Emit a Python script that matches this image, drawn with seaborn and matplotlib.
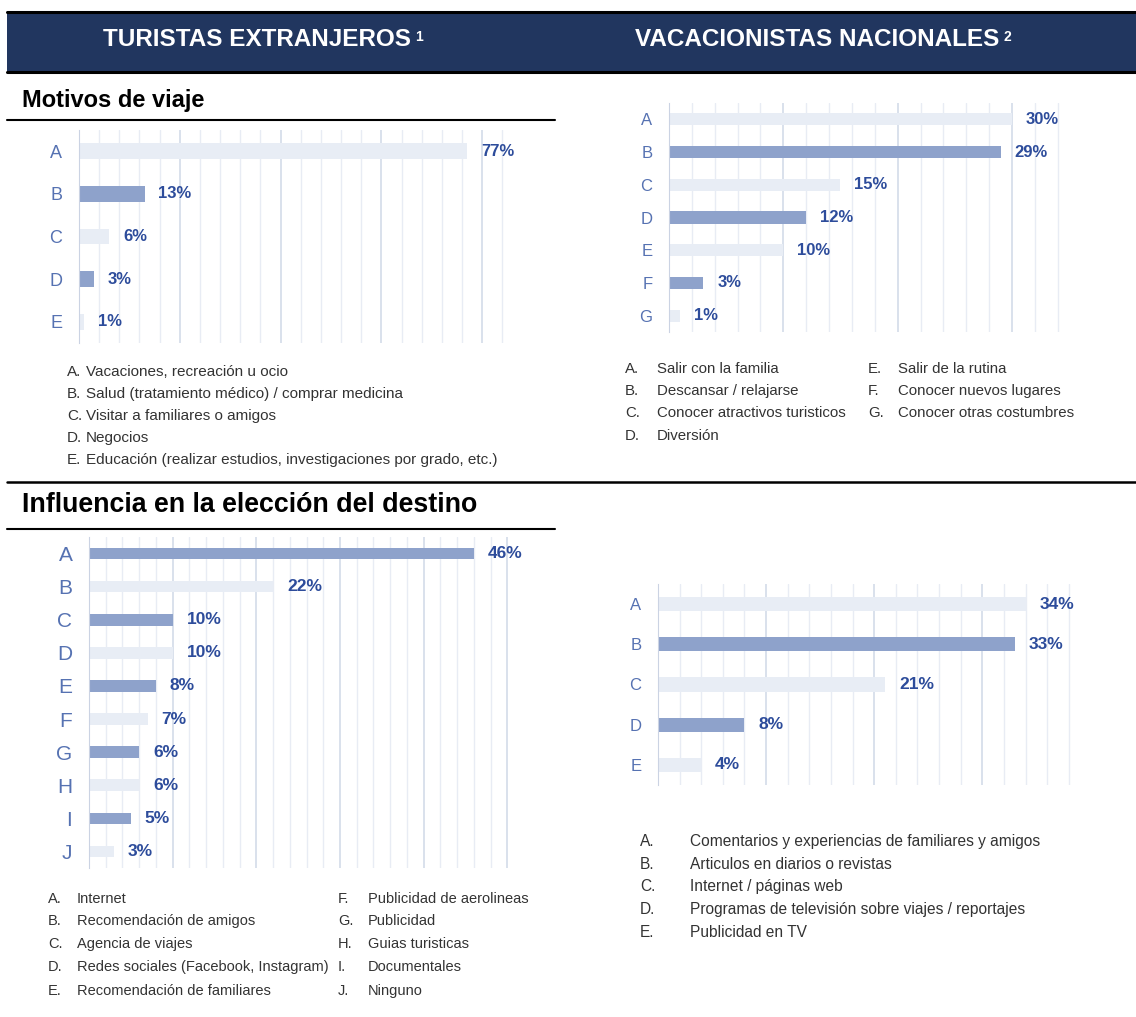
import matplotlib
matplotlib.use('Agg')
import matplotlib.pyplot as plt
from matplotlib.lines import Line2D
from matplotlib.patches import Rectangle
from matplotlib.ticker import MultipleLocator, FixedLocator
import numpy as np
import pandas as pd
import seaborn as sns

sns.set_style('white')
plt.rcParams['font.family'] = ['Liberation Sans', 'DejaVu Sans']

W, H = 1136, 1017
navy = '#21365f'
bar_light = '#e8edf5'
bar_dark = '#8ea2cb'
val_color = '#2d4c9b'
tick_color = '#5672b2'
grid_major = '#d7deeb'
grid_minor = '#e8ecf4'
legend_color = '#333333'

# data
ext_motivos_cat = ['A', 'B', 'C', 'D', 'E']
ext_motivos_val = [77, 13, 6, 3, 1]
ext_motivos_txt = ['Vacaciones, recreación u ocio',
                   'Salud (tratamiento médico) / comprar medicina',
                   'Visitar a familiares o amigos',
                   'Negocios',
                   'Educación (realizar estudios, investigaciones por grado, etc.)']

nac_motivos_cat = ['A', 'B', 'C', 'D', 'E', 'F', 'G']
nac_motivos_val = [30, 29, 15, 12, 10, 3, 1]
nac_motivos_txt = ['Salir con la familia', 'Descansar / relajarse',
                   'Conocer atractivos turisticos', 'Diversión',
                   'Salir de la rutina', 'Conocer nuevos lugares',
                   'Conocer otras costumbres']

ext_infl_cat = ['A', 'B', 'C', 'D', 'E', 'F', 'G', 'H', 'I', 'J']
ext_infl_val = [46, 22, 10, 10, 8, 7, 6, 6, 5, 3]
ext_infl_txt = ['Internet', 'Recomendación de amigos', 'Agencia de viajes',
                'Redes sociales (Facebook, Instagram)', 'Recomendación de familiares',
                'Publicidad de aerolineas', 'Publicidad', 'Guias turisticas',
                'Documentales', 'Ninguno']

nac_infl_cat = ['A', 'B', 'C', 'D', 'E']
nac_infl_val = [34, 33, 21, 8, 4]
nac_infl_txt = ['Comentarios y experiencias de familiares y amigos',
                'Articulos en diarios o revistas',
                'Internet / páginas web',
                'Programas de televisión sobre viajes / reportajes',
                'Publicidad en TV']


def fx(x):
    return x / W


def fy(y):
    return 1 - y / H


def add_ax(x0, y0, x1, y1):
    return fig.add_axes([fx(x0), fy(y1), (x1 - x0) / W, (y1 - y0) / H])


def hline(x0, x1, y, lw=1.5):
    fig.add_artist(Line2D([fx(x0), fx(x1)], [fy(y), fy(y)], transform=fig.transFigure,
                          color='black', lw=lw))


def draw_panel(ax, cats, vals, first_dark, xmax, major, minor, bar_w, tick_fs, val_fs):
    df = pd.DataFrame({'cat': cats, 'val': vals})
    colors = [(bar_dark if (i % 2 == 0) == first_dark else bar_light) for i in range(len(cats))]
    sns.barplot(data=df, x='val', y='cat', hue='cat', palette=colors, orient='h',
                width=bar_w, legend=False, ax=ax, saturation=1, linewidth=0)
    ax.set_xlim(0, xmax)
    ax.set_ylim(len(cats) - 0.5, -0.5)
    ax.xaxis.set_major_locator(MultipleLocator(major))
    ax.xaxis.set_minor_locator(MultipleLocator(minor))
    ax.grid(axis='x', which='major', color=grid_major, lw=1.3)
    ax.grid(axis='x', which='minor', color=grid_minor, lw=1.0)
    ax.set_axisbelow(True)
    ax.tick_params(axis='x', which='both', length=0, labelbottom=False)
    ax.yaxis.set_minor_locator(FixedLocator(np.arange(-0.5, len(cats), 1)))
    ax.tick_params(axis='y', which='major', length=0, pad=12, labelsize=tick_fs,
                   labelcolor=tick_color)
    ax.tick_params(axis='y', which='minor', length=5, width=1, color='#cbd3e3')
    for s in ['top', 'right', 'bottom']:
        ax.spines[s].set_visible(False)
    ax.spines['left'].set_color('#cbd3e3')
    ax.set_xlabel('')
    ax.set_ylabel('')
    for i, v in enumerate(vals):
        ax.annotate(f'{v}%', (v, i), xytext=(10, 0), textcoords='offset points',
                    va='center', ha='left', fontweight='bold', color=val_color,
                    fontsize=val_fs)


def legend(items, x_letter, x_text, y_rows, start=0, fs=11):
    letters = 'ABCDEFGHIJ'
    for k, (txt, y) in enumerate(zip(items, y_rows)):
        yb = fy(y + fs * 0.4)
        fig.text(fx(x_letter), yb, letters[start + k] + '.', fontsize=fs,
                 color=legend_color, va='baseline', ha='left')
        fig.text(fx(x_text), yb, txt, fontsize=fs, color=legend_color,
                 va='baseline', ha='left')


fig = plt.figure(figsize=(W / 100, H / 100), dpi=100)
renderer = fig.canvas.get_renderer()

# header band
fig.add_artist(Rectangle((fx(7), fy(72)), (W - 7) / W, 60 / H, transform=fig.transFigure,
                         facecolor=navy, edgecolor='none'))
hline(7, W, 12, lw=2.2)
hline(7, W, 72, lw=2.2)
for title, sup, x in [('TURISTAS EXTRANJEROS', '1', 103),
                      ('VACACIONISTAS NACIONALES', '2', 635)]:
    t = fig.text(fx(x), fy(40), title, color='white', fontsize=17.5,
                 fontweight='bold', va='center', ha='left')
    x_end = t.get_window_extent(renderer).x1
    fig.text((x_end + 4) / W, fy(30), sup, color='white', fontsize=10,
             fontweight='bold', va='top', ha='left')

# section titles and rules
fig.text(fx(22), fy(100), 'Motivos de viaje', fontsize=17, fontweight='bold',
         color='black', va='center', ha='left')
hline(7, 555, 120)
hline(7, W, 482, lw=1.8)
fig.text(fx(22), fy(505), 'Influencia en la elección del destino', fontsize=19.3,
         fontweight='bold', color='black', va='center', ha='left')
hline(7, 555, 529)

# panels
ax1 = add_ax(79, 130, 504, 343)
draw_panel(ax1, ext_motivos_cat, ext_motivos_val, False, 84.3, 20, 4, 0.37, 13, 12)

ax2 = add_ax(669, 103, 1060, 332)
draw_panel(ax2, nac_motivos_cat, nac_motivos_val, False, 34.2, 10, 2, 0.37, 12, 12)

ax3 = add_ax(89, 537, 509, 868)
draw_panel(ax3, ext_infl_cat, ext_infl_val, True, 50.2, 10, 2, 0.35, 15, 12.5)

ax4 = add_ax(658, 584, 1071, 785)
draw_panel(ax4, nac_infl_cat, nac_infl_val, False, 38.2, 10, 2, 0.35, 12, 12.5)

# legends
legend(ext_motivos_txt, 67, 86, [372, 394, 416, 438, 460], fs=11)
legend(nac_motivos_txt[:4], 625, 657, [369, 391, 413, 436], fs=10.8)
legend(nac_motivos_txt[4:], 868, 898, [369, 391, 413], start=4, fs=10.8)
legend(ext_infl_txt[:5], 48, 77, [899, 921, 944, 967, 991], fs=10.5)
legend(ext_infl_txt[5:], 338, 368, [899, 921, 944, 967, 991], start=5, fs=10.5)
legend(nac_infl_txt, 640, 690, [842, 865, 887, 910, 933], fs=11.2)

fig.savefig('out.png', dpi=100, facecolor='white')
